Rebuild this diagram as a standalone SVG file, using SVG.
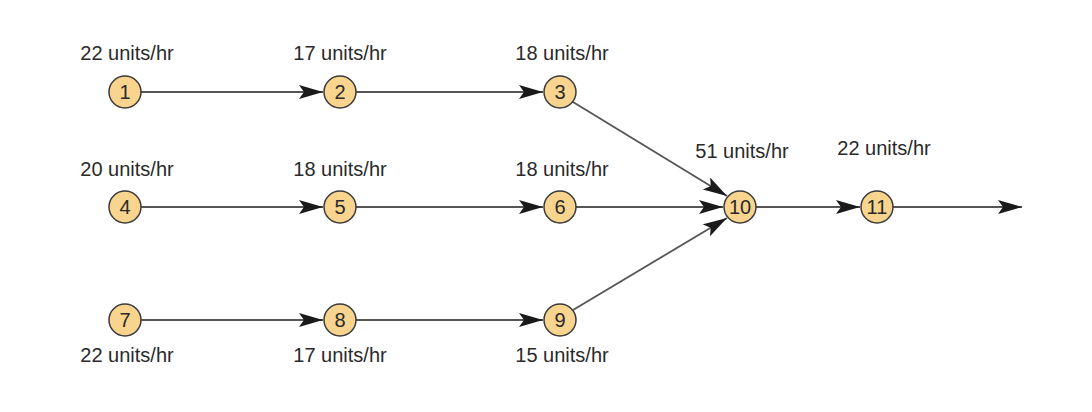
<svg xmlns="http://www.w3.org/2000/svg" width="1092" height="412" viewBox="0 0 1092 412">
<style>
.n{fill:#f8d48e;stroke:#3a3a3a;stroke-width:1.5}
.t{font-family:"Liberation Sans",Arial,sans-serif;font-size:20px;fill:#2a2a2a;text-anchor:middle}
.c{stroke:#555;stroke-width:1.8;fill:none;marker-end:url(#a)}
</style>
<defs><marker id="a" markerUnits="userSpaceOnUse" markerWidth="26" markerHeight="16" refX="24" refY="7" orient="auto"><path d="M0,0 L24,7 L0,14 L5,7 Z" fill="#1a1a1a"/></marker></defs>
<rect width="1092" height="412" fill="#fff"/>
<g id="connectors">
<line class="c" x1="141" y1="92" x2="323" y2="92"/>
<line class="c" x1="356" y1="92" x2="543" y2="92"/>
<line class="c" x1="141" y1="207" x2="323" y2="207"/>
<line class="c" x1="356" y1="207" x2="543" y2="207"/>
<line class="c" x1="141" y1="320" x2="323" y2="320"/>
<line class="c" x1="356" y1="320" x2="543" y2="320"/>
<line class="c" x1="576" y1="207" x2="723" y2="207"/>
<line class="c" x1="573" y1="102" x2="727" y2="196"/>
<line class="c" x1="573" y1="310" x2="727" y2="218"/>
<line class="c" x1="756" y1="207" x2="860" y2="207"/>
<line class="c" x1="893" y1="207" x2="1022" y2="207"/>
</g>
<g id="n1"><circle class="n" cx="125" cy="92" r="16"/><text class="t" x="125" y="99">1</text><text class="t" x="127" y="60">22 units/hr</text></g>
<g id="n2"><circle class="n" cx="340" cy="92" r="16"/><text class="t" x="340" y="99">2</text><text class="t" x="340" y="60">17 units/hr</text></g>
<g id="n3"><circle class="n" cx="560" cy="92" r="16"/><text class="t" x="560" y="99">3</text><text class="t" x="562" y="60">18 units/hr</text></g>
<g id="n4"><circle class="n" cx="125" cy="207" r="16"/><text class="t" x="125" y="214">4</text><text class="t" x="127" y="176">20 units/hr</text></g>
<g id="n5"><circle class="n" cx="340" cy="207" r="16"/><text class="t" x="340" y="214">5</text><text class="t" x="340" y="176">18 units/hr</text></g>
<g id="n6"><circle class="n" cx="560" cy="207" r="16"/><text class="t" x="560" y="214">6</text><text class="t" x="562" y="176">18 units/hr</text></g>
<g id="n7"><circle class="n" cx="125" cy="320" r="16"/><text class="t" x="125" y="327">7</text><text class="t" x="127" y="362">22 units/hr</text></g>
<g id="n8"><circle class="n" cx="340" cy="320" r="16"/><text class="t" x="340" y="327">8</text><text class="t" x="340" y="362">17 units/hr</text></g>
<g id="n9"><circle class="n" cx="560" cy="320" r="16"/><text class="t" x="560" y="327">9</text><text class="t" x="562" y="362">15 units/hr</text></g>
<g id="n10"><circle class="n" cx="740" cy="207" r="16"/><text class="t" x="740" y="214">10</text><text class="t" x="742" y="158">51 units/hr</text></g>
<g id="n11"><circle class="n" cx="877" cy="207" r="16"/><text class="t" x="877" y="214">11</text><text class="t" x="884" y="155">22 units/hr</text></g>
</svg>
